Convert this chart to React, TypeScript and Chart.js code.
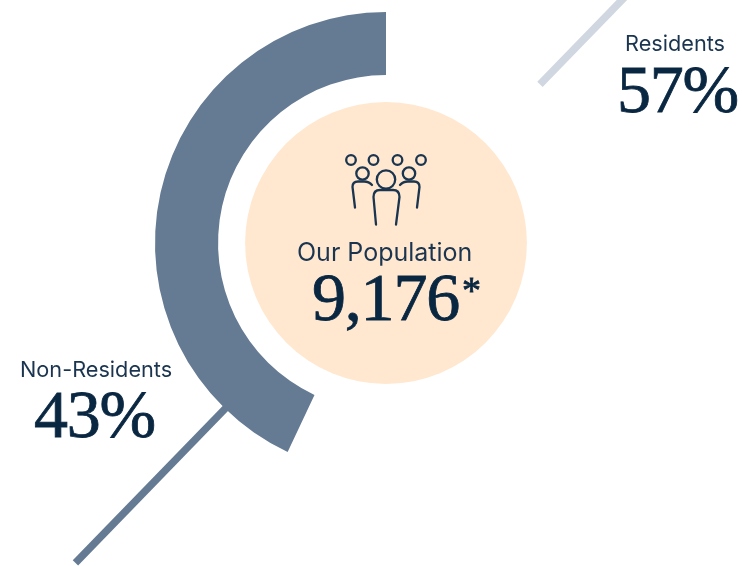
import React, { useEffect, useRef } from "react";
import { Chart, registerables } from "chart.js";

Chart.register(...registerables);

const categories = ["Residents", "Non-Residents"];
const shares = [57, 43];
const shareLabels = ["57%", "43%"];
const sliceColors = ["rgba(255,255,255,0)", "#657a93"];
const leaderColors = ["#d0d7e1", "#657a93"];
const populationTitle = "Our Population";
const populationValue = "9,176";

const INK = "#0a2742";
const LABEL_INK = "#1b3550";
const SANS = "Inter, 'Noto Sans', sans-serif";
const SERIF = "'Liberation Serif', serif";

// Peach disc behind the centre text, plus the two radial leader lines that
// run outward from the ring along the same diagonal.
const decorations = {
  id: "decorations",
  beforeDatasetsDraw(chart: Chart) {
    const arc: any = chart.getDatasetMeta(0).data[0];
    const { x, y, outerRadius } = arc;
    const ctx = chart.ctx;
    ctx.save();
    ctx.fillStyle = "#ffe8cf";
    ctx.beginPath();
    ctx.arc(x, y, outerRadius * 0.61, 0, Math.PI * 2);
    ctx.fill();
    const angle = Math.atan2(-1.03, 1);
    const dx = Math.cos(angle);
    const dy = Math.sin(angle);
    ctx.lineWidth = 7.5;
    ctx.strokeStyle = leaderColors[0];
    ctx.beginPath();
    ctx.moveTo(x + dx * (outerRadius - 10), y + dy * (outerRadius - 10));
    ctx.lineTo(x + dx * (outerRadius * 1.93), y + dy * (outerRadius * 1.93));
    ctx.stroke();
    ctx.strokeStyle = leaderColors[1];
    ctx.beginPath();
    ctx.moveTo(x - dx * (outerRadius - 8), y - dy * (outerRadius - 8));
    ctx.lineTo(x - dx * (outerRadius * 1.93), y - dy * (outerRadius * 1.93));
    ctx.stroke();
    ctx.restore();
  },
};

function PeopleIcon() {
  const line = { fill: "none", stroke: "#1b3550", strokeWidth: 2.3 };
  return (
    <svg
      width={742}
      height={566}
      style={{ position: "absolute", left: 0, top: 0, pointerEvents: "none" }}
    >
      <g {...line} strokeLinecap="round">
        <circle cx={351} cy={160} r={4.8} />
        <circle cx={373.5} cy={160} r={4.8} />
        <circle cx={397.5} cy={160} r={4.8} />
        <circle cx={421} cy={160} r={4.8} />
        <circle cx={362.5} cy={173.5} r={6.2} />
        <circle cx={409} cy={173.5} r={6.2} />
        <circle cx={386} cy={179.5} r={9.2} />
        <path d="M376 224.5 L373.5 197 Q373.5 190 380 190 L393 190 Q399.5 190 399.5 197 L396 224.5" />
        <path d="M355 207.5 L352.5 187 Q352.5 181.5 358 181.5 L364 181.5 Q369 181.5 372 185" />
        <path d="M417 207.5 L419.5 187 Q419.5 181.5 414 181.5 L408 181.5 Q403 181.5 400 185" />
      </g>
    </svg>
  );
}

function Caption(props: { text: string; x: number; y: number; size: number; serif?: boolean }) {
  const { text, x, y, size, serif } = props;
  return (
    <div
      style={{
        position: "absolute",
        left: x,
        top: y,
        fontFamily: serif ? SERIF : SANS,
        fontSize: size,
        lineHeight: `${size}px`,
        color: serif ? INK : LABEL_INK,
        letterSpacing: serif ? -1.2 : 0,
        WebkitTextStroke: serif ? "0.8px " + INK : undefined,
        whiteSpace: "nowrap",
      }}
    >
      {text}
    </div>
  );
}

export default function App() {
  const canvasRef = useRef<HTMLCanvasElement>(null);

  useEffect(() => {
    const chart = new Chart(canvasRef.current!, {
      type: "doughnut",
      data: {
        labels: categories,
        datasets: [
          {
            data: shares,
            backgroundColor: sliceColors,
            borderWidth: 0,
          },
        ],
      },
      options: {
        responsive: false,
        animation: false,
        cutout: "72.7%",
        layout: { padding: { left: 155, right: 125, top: 12, bottom: 92 } },
        plugins: { legend: { display: false }, tooltip: { enabled: false } },
      },
      plugins: [decorations],
    });
    return () => chart.destroy();
  }, []);

  return (
    <div style={{ position: "fixed", left: 0, top: 0, width: 742, height: 566, background: "#fff", overflow: "hidden" }}>
      <canvas ref={canvasRef} width={742} height={566} style={{ display: "block" }} />
      <PeopleIcon />
      <Caption text={categories[0]} x={625} y={33} size={21.7} />
      <Caption text={shareLabels[0]} x={617} y={55} size={68} serif />
      <Caption text={categories[1]} x={20} y={359} size={21.7} />
      <Caption text={shareLabels[1]} x={34} y={380} size={68} serif />
      <Caption text={populationTitle} x={297} y={240} size={25} />
      <Caption text={populationValue} x={312} y={263} size={68} serif />
      <Caption text="*" x={462} y={271} size={38} serif />
    </div>
  );
}
